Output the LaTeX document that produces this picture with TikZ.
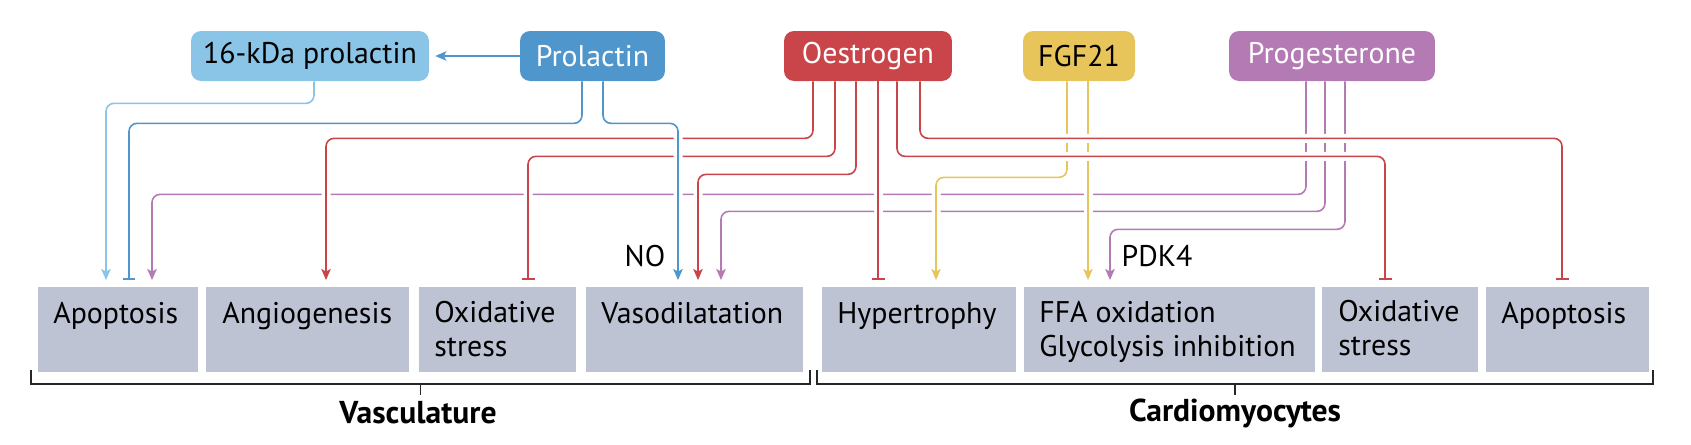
\documentclass[tikz,border=0pt]{standalone}
\usepackage{fontspec}
\setmainfont{PT Sans}
\usetikzlibrary{arrows.meta,
                calc,
                positioning}

\definecolor{cellgrey}{HTML}{BEC3D4}
\definecolor{prlight}{HTML}{8AC4E7}
\definecolor{prblue}{HTML}{4E96CB}
\definecolor{oesred}{HTML}{C9454A}
\definecolor{fgfyellow}{HTML}{E8C55B}
\definecolor{prgpurple}{HTML}{B47AB4}

\begin{document}
\begin{tikzpicture}[
        x=0.02cm, y=-0.02cm,
        every node/.style={font=\fontsize{17}{18.8}\selectfont},
        hormone/.style={rectangle, rounded corners=0.2cm, minimum height=1cm, inner sep=0pt, text centered},
        cell/.style={rectangle, fill=cellgrey, anchor=north west, minimum height=1.7cm, inner sep=0pt},
        celltext/.style={anchor=base west, align=left, inner sep=0pt},
        link/.style={line width=0.032cm, rounded corners=0.16cm, shorten >=0.14cm,
                     preaction={draw=white, line width=0.18cm, arrows=-}},
        act/.style={link, arrows=-{Stealth[length=0.22cm, width=0.19cm, inset=0.05cm]}},
        inh/.style={link, arrows=-{Bar[width=0.26cm, line width=0.04cm]}},
        bracket/.style={line width=0.03cm, draw=black!85},
        tissue/.style={font=\fontsize{18}{20}\selectfont\bfseries}
        ]

        \useasboundingbox (0,0) rectangle (1691,444);

        % hormones
        \node (kda) [hormone, fill=prlight, minimum width=4.76cm]              at (310,56)   {16-kDa prolactin};
        \node (prl) [hormone, fill=prblue, text=white, minimum width=2.9cm]     at (592.5,56) {Prolactin};
        \node (oes) [hormone, fill=oesred, text=white, minimum width=3.36cm]    at (868,56)   {Oestrogen};
        \node (fgf) [hormone, fill=fgfyellow, minimum width=2.24cm]             at (1079,56)  {FGF21};
        \node (prg) [hormone, fill=prgpurple, text=white, minimum width=4.12cm] at (1332,56)  {Progesterone};

        % effects
        \node (vapo) [cell, minimum width=3.2cm]  at (38,287)   {};
        \node (vang) [cell, minimum width=4.06cm] at (206,287)  {};
        \node (vox)  [cell, minimum width=3.14cm] at (419,287)  {};
        \node (vvas) [cell, minimum width=4.34cm] at (586,287)  {};
        \node (hyp)  [cell, minimum width=3.88cm] at (822,287)  {};
        \node (ffa)  [cell, minimum width=5.82cm] at (1024,287) {};
        \node (cox)  [cell, minimum width=3.12cm] at (1322,287) {};
        \node (capo) [cell, minimum width=3.26cm] at (1486,287) {};

        % base of two-line texts is on their last line
        \node (vapoT) [celltext] at ($(vapo.north west)+(15,36)$) {Apoptosis};
        \node (vangT) [celltext] at ($(vang.north west)+(16,36)$) {Angiogenesis};
        \node (voxT)  [celltext] at ($(vox.north west)+(15,69)$)  {Oxidative\\stress};
        \node (vvasT) [celltext] at ($(vvas.north west)+(15,36)$) {Vasodilatation};
        \node (hypT)  [celltext] at ($(hyp.north west)+(15,36)$)  {Hypertrophy};
        \node (ffaT)  [celltext] at ($(ffa.north west)+(15,69)$)  {FFA oxidation\\Glycolysis inhibition};
        \node (coxT)  [celltext] at ($(cox.north west)+(16,68)$)  {Oxidative\\stress};
        \node (capoT) [celltext] at ($(capo.north west)+(15,36)$) {Apoptosis};

        \node (no)   [anchor=base] at (645,266)  {NO};
        \node (pdk4) [anchor=base] at (1157,266) {PDK4};

        % progesterone
        \draw [act, prgpurple] ($(prg.south)+(-26,0)$) -- ++(0,113) -| ($(vapo.north west)+(114,0)$);
        \draw [act, prgpurple] ($(prg.south)+(-7,0)$)  -- ++(0,130) -| ($(vvas.north west)+(135,0)$);
        \draw [act, prgpurple] ($(prg.south)+(13,0)$)  -- ++(0,148) -| ($(ffa.north west)+(86,0)$);

        % FGF21
        \draw [act, fgfyellow] ($(fgf.south)+(-12,0)$) -- ++(0,96) -| ($(hyp.north west)+(114,0)$);
        \draw [act, fgfyellow] ($(fgf.south)+(9,0)$)   -- ($(ffa.north west)+(64,0)$);

        % oestrogen
        \draw [act, oesred] ($(oes.south)+(-55,0)$) -- ++(0,57) -| ($(vang.north west)+(120,0)$);
        \draw [inh, oesred] ($(oes.south)+(-33,0)$) -- ++(0,75) -| ($(vox.north west)+(109,0)$);
        \draw [act, oesred] ($(oes.south)+(-12,0)$) -- ++(0,93) -| ($(vvas.north west)+(112,0)$);
        \draw [inh, oesred] ($(oes.south)+(10,0)$)  -- ($(hyp.north west)+(56,0)$);
        \draw [inh, oesred] ($(oes.south)+(29,0)$)  -- ++(0,75) -| ($(cox.north west)+(63,0)$);
        \draw [inh, oesred] ($(oes.south)+(52,0)$)  -- ++(0,57) -| ($(capo.north west)+(76,0)$);

        % prolactin
        \draw [inh, prblue] ($(prl.south)+(-10.5,0)$) -- ++(0,42) -| ($(vapo.north west)+(91,0)$);
        \draw [act, prblue] ($(prl.south)+(10.5,0)$)  -- ++(0,42) -| ($(vvas.north west)+(92,0)$);
        \draw [act, prblue, shorten >=0.12cm] (prl.west) -- (kda.east);
        \draw [act, prlight] ($(kda.south)+(4,0)$) -- ++(0,22) -| ($(vapo.north west)+(68,0)$);

        % tissues
        \draw [bracket] (31,370) |- (810,384) -- (810,370);
        \draw [bracket] (420.5,384) -- ++(0,11);
        \draw [bracket] (817,370) |- (1653,384) -- (1653,370);
        \draw [bracket] (1235,384) -- ++(0,11);

        \node (vasc)   [tissue] at (418,413)  {Vasculature};
        \node (cardio) [tissue] at (1235,413) {Cardiomyocytes};

    \end{tikzpicture}
\end{document}
